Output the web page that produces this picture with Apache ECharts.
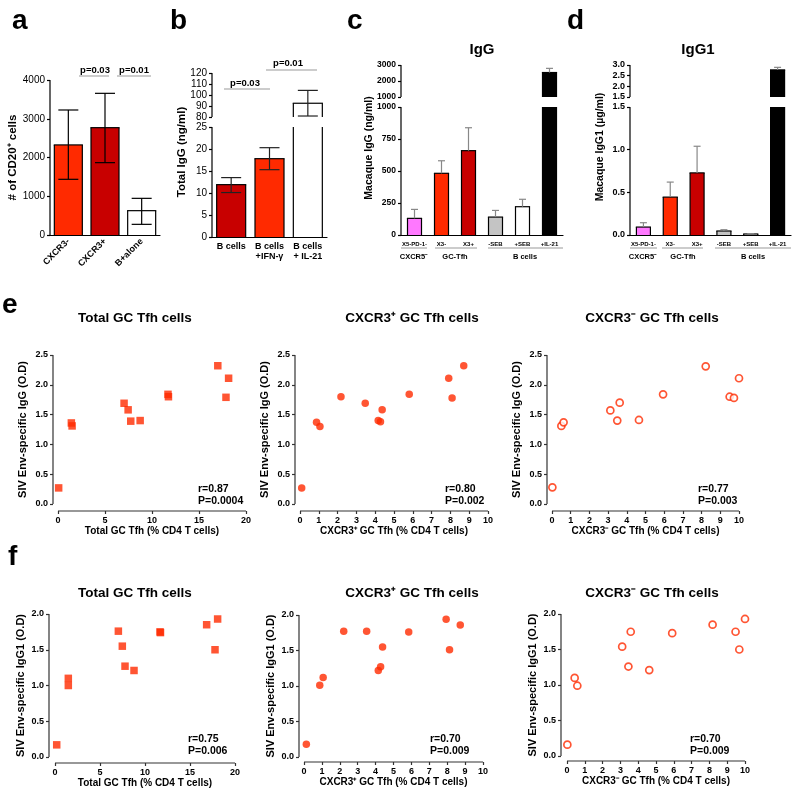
<!DOCTYPE html>
<html><head><meta charset="utf-8">
<script src="https://cdn.jsdelivr.net/npm/echarts@6/dist/echarts.min.js"></script>
<style>html,body{margin:0;padding:0;background:#fff}#c{width:800px;height:798px}</style>
</head><body><div id="c"></div>
<script>
// ---------- data ----------
// Panel a
const catsA = ['CXCR3-', 'CXCR3+', 'B+alone'];
const meanA = [2325, 2770, 628];
const loA = [1437, 1867, 275];
const hiA = [3226, 3656, 946];
// Panel b
const catsB = ['B cells', 'B cells\n+IFN-γ', 'B cells\n+ IL-21'];
const meanB = [11.9, 17.8, 92.5];
const loB = [10.1, 15.3, 80.9];
const hiB = [13.5, 20.3, 104.2];
// Panels c, d
const catsCD = ['X5-PD-1-', 'X3-', 'X3+', '-SEB', '+SEB', '+IL-21'];
const meanC = [130, 482, 659, 140, 221, 2530];
const errC = [200, 580, 838, 192, 279, 2790];
const meanD = [0.093, 0.444, 0.728, 0.047, 0.012, 2.77];
const errD = [0.144, 0.62, 1.04, 0.062, 0.016, 2.89];
const groupsCD = ['CXCR5⁻', 'GC-Tfh', 'B cells'];
// axis break segments
const A_RANGE = [0, 4000];
const B_LOW = [0, 25], B_HIGH = [80, 120];
const C_LOW = [0, 1000], C_HIGH = [1000, 3000];
const D_LOW = [0, 1.5], D_HIGH = [1.5, 3.0];
// Panel e (IgG)
const eTotX = [0.07, 1.42, 1.5, 7.03, 7.46, 7.74, 8.74, 11.7, 11.75, 17.0, 18.15, 17.87];
const eTotY = [0.27, 1.36, 1.31, 1.69, 1.58, 1.39, 1.40, 1.84, 1.80, 2.32, 2.11, 1.79];
const ePosX = [0.09, 0.88, 1.06, 2.18, 3.47, 4.16, 4.28, 4.37, 5.81, 7.91, 8.09, 8.71];
const ePosY = [0.27, 1.37, 1.30, 1.80, 1.69, 1.40, 1.38, 1.58, 1.84, 2.11, 1.78, 2.32];
const eNegX = [0.02, 0.5, 0.62, 3.12, 3.62, 3.49, 4.65, 5.94, 8.22, 9.5, 9.73, 10.0];
const eNegY = [0.28, 1.31, 1.37, 1.57, 1.70, 1.40, 1.41, 1.84, 2.31, 1.80, 1.78, 2.11];
// Panel f (IgG1)
const fTotX = [0.19, 1.48, 1.48, 7.04, 7.48, 7.78, 8.78, 11.67, 11.72, 16.85, 18.07, 17.78];
const fTotY = [0.17, 1.10, 1.00, 1.76, 1.55, 1.27, 1.21, 1.75, 1.74, 1.85, 1.93, 1.50];
const fPosX = [0.13, 0.88, 1.07, 2.22, 3.50, 4.15, 4.28, 4.39, 5.85, 7.94, 8.13, 8.73];
const fPosY = [0.18, 1.01, 1.12, 1.77, 1.77, 1.22, 1.27, 1.55, 1.76, 1.94, 1.51, 1.86];
const fNegX = [0.02, 0.43, 0.58, 3.10, 3.58, 3.45, 4.62, 5.91, 8.18, 9.47, 9.68, 10.0];
const fNegY = [0.16, 1.10, 0.99, 1.54, 1.75, 1.26, 1.21, 1.73, 1.85, 1.75, 1.50, 1.93];
const statsE = [['r=0.87', 'P=0.0004'], ['r=0.80', 'P=0.002'], ['r=0.77', 'P=0.003']];
const statsF = [['r=0.75', 'P=0.006'], ['r=0.70', 'P=0.009'], ['r=0.70', 'P=0.009']];

// ---------- styles ----------
const F = '"Liberation Sans", Arial, Helvetica, sans-serif';
const RED = '#ff2a00', DRED = '#c80000';
const colorsA = [RED, DRED, '#ffffff'];
const colorsB = [DRED, RED, '#ffffff'];
const colorsCD = ['#ff78ff', RED, DRED, '#c4c4c4', '#ffffff', '#000000'];

const grids = [
  {left:50, top:80, width:110, height:155},   // 0 a
  {left:212, top:73, width:115, height:44},   // 1 b hi
  {left:212, top:127, width:115, height:110}, // 2 b lo
  {left:401, top:65, width:162, height:32},   // 3 c hi
  {left:401, top:107, width:162, height:128}, // 4 c lo
  {left:630, top:65, width:161, height:32},   // 5 d hi
  {left:630, top:107, width:161, height:128}, // 6 d lo
  {left:58, top:355, width:188, height:149},  // 7 e1
  {left:300, top:355, width:188, height:149}, // 8 e2
  {left:552, top:355, width:187, height:149}, // 9 e3
  {left:55, top:614, width:180, height:143},  // 10 f1
  {left:304, top:615, width:179, height:142}, // 11 f2
  {left:567, top:614, width:178, height:142}  // 12 f3
].map(g => Object.assign({outerBoundsMode:'none', containLabel:false, show:false}, g));

function yVal(gi, seg, interval, o) {
  o = o || {};
  return {
    type:'value', gridIndex:gi, min:seg[0], max:seg[1], interval:interval, offset:o.offset||0,
    name:o.name||'', nameLocation:'middle', nameGap:o.gap||25,
    nameTextStyle:{fontFamily:F, fontWeight:'bold', fontSize:o.nameSize||11, color:'#000'},
    axisLine:{show:false, onZero:false},
    axisTick:{show:true, inside:false, length:3, lineStyle:{color:o.c||'#000', width:1.2}},
    axisLabel:{show:true, fontFamily:F, fontSize:o.fs||9, fontWeight:o.fw||'bold', color:'#000', margin:5,
      formatter:o.fmt || (v => String(v))},
    splitLine:{show:false},
    lineColor:o.c||'#000'
  };
}
function xCat(gi, data, o) {
  o = o || {};
  return {
    type:'category', gridIndex:gi, data:data, show:o.show !== false,
    axisLine:{show:true, onZero:false, lineStyle:{color:'#000', width:1.2}}, axisTick:{show:false},
    axisLabel:{show:true, interval:0, rotate:o.rotate||0, fontFamily:F, fontWeight:'bold',
      fontSize:o.fs||9, color:'#000', margin:o.margin||4, lineHeight:o.lh||10, hideOverlap:false},
    splitLine:{show:false}
  };
}
function xVal(gi, max, interval, name, offset) {
  return {
    type:'value', gridIndex:gi, min:0, max:max, interval:interval, offset:offset,
    name:name, nameLocation:'middle', nameGap:15,
    nameTextStyle:{fontFamily:F, fontWeight:'bold', fontSize:10, color:'#000'},
    axisLine:{show:false, onZero:false},
    axisTick:{show:true, length:3, lineStyle:{color:'#333', width:1.2}},
    axisLabel:{fontFamily:F, fontWeight:'bold', fontSize:9, color:'#000', margin:5},
    splitLine:{show:false},
    lineColor:'#333'
  };
}
const fmt1 = v => v.toFixed(1);

const xAxis = [
  xCat(0, catsA, {rotate:45, fs:9, margin:5}),
  xCat(1, catsB, {show:false}),
  xCat(2, catsB, {fs:9, margin:5}),
  xCat(3, catsCD, {show:false}),
  xCat(4, catsCD, {fs:6, margin:4}),
  xCat(5, catsCD, {show:false}),
  xCat(6, catsCD, {fs:6, margin:4}),
  xVal(7, 20, 5, 'Total GC Tfh (% CD4 T cells)', 7),
  xVal(8, 10, 1, 'CXCR3⁺ GC Tfh (% CD4 T cells)', 7),
  xVal(9, 10, 1, 'CXCR3⁻ GC Tfh (% CD4 T cells)', 7),
  xVal(10, 20, 5, 'Total GC Tfh (% CD4 T cells)', 6),
  xVal(11, 10, 1, 'CXCR3⁺ GC Tfh (% CD4 T cells)', 5),
  xVal(12, 10, 1, 'CXCR3⁻ GC Tfh (% CD4 T cells)', 5)
];
const yAxis = [
  yVal(0, A_RANGE, 1000, {fs:10, fw:'normal', name:'# of CD20⁺ cells', gap:31, nameSize:11.5}),
  yVal(1, B_HIGH, 10, {fs:10, fw:'normal'}),
  yVal(2, B_LOW, 5, {fs:10, fw:'normal'}),
  yVal(3, C_HIGH, 1000, {fs:8.5}),
  yVal(4, C_LOW, 250, {fs:8.5}),
  yVal(5, D_HIGH, 0.5, {fmt:fmt1}),
  yVal(6, D_LOW, 0.5, {fmt:fmt1}),
  yVal(7, [0, 2.5], 0.5, {fmt:fmt1, c:'#333', offset:5, name:'SIV Env-specific IgG (O.D)', gap:25}),
  yVal(8, [0, 2.5], 0.5, {fmt:fmt1, c:'#333', offset:5, name:'SIV Env-specific IgG (O.D)', gap:25}),
  yVal(9, [0, 2.5], 0.5, {fmt:fmt1, c:'#333', offset:5, name:'SIV Env-specific IgG (O.D)', gap:25}),
  yVal(10, [0, 2.0], 0.5, {fmt:fmt1, c:'#333', offset:6, name:'SIV Env-specific IgG1 (O.D)', gap:23}),
  yVal(11, [0, 2.0], 0.5, {fmt:fmt1, c:'#333', offset:5, name:'SIV Env-specific IgG1 (O.D)', gap:23}),
  yVal(12, [0, 2.0], 0.5, {fmt:fmt1, c:'#333', offset:6, name:'SIV Env-specific IgG1 (O.D)', gap:23})
];

// ---------- series ----------
function barSeries(gi, values, colors, width) {
  return {type:'bar', xAxisIndex:gi, yAxisIndex:gi, barWidth:width, clip:true, silent:true, z:2,
    data: values.map((v, i) => v === '-' ? '-' : ({value:v, itemStyle:{color:colors[i], borderWidth:0}}))};
}
// bar outlines: left/right edges, top edge only when the bar ends inside this axis segment
function outlineSeries(gi, values, seg, width) {
  return {type:'custom', xAxisIndex:gi, yAxisIndex:gi, z:4, silent:true,
    data: values.map((v, i) => [i, v]).filter(d => d[1] !== '-'),
    encode:{x:0, y:1},
    renderItem: function(params, api) {
      const i = api.value(0), v = api.value(1);
      const top = Math.min(v, seg[1]);
      const pB = api.coord([i, seg[0]]), pT = api.coord([i, top]);
      const h = width / 2, st = {stroke:'#000', lineWidth:1.2, fill:null};
      const ch = [
        {type:'line', shape:{x1:pB[0]-h, y1:pB[1], x2:pT[0]-h, y2:pT[1]}, style:st},
        {type:'line', shape:{x1:pB[0]+h, y1:pB[1], x2:pT[0]+h, y2:pT[1]}, style:st}
      ];
      if (v <= seg[1]) ch.push({type:'line', shape:{x1:pT[0]-h-0.6, y1:pT[1], x2:pT[0]+h+0.6, y2:pT[1]}, style:st});
      return {type:'group', children:ch};
    }};
}
function errSeries(gi, items, capW, color, twoCaps) {
  return {type:'custom', xAxisIndex:gi, yAxisIndex:gi, z:5, silent:true,
    data: items, encode:{x:0, y:[1, 2]},
    renderItem: function(params, api) {
      const x = api.value(0), lo = api.value(1), hi = api.value(2);
      const p1 = api.coord([x, lo]), p2 = api.coord([x, hi]);
      const st = {stroke:color, lineWidth:1.2};
      const ch = [
        {type:'line', shape:{x1:p1[0], y1:p1[1], x2:p2[0], y2:p2[1]}, style:st},
        {type:'line', shape:{x1:p2[0]-capW/2, y1:p2[1], x2:p2[0]+capW/2, y2:p2[1]}, style:st}
      ];
      if (twoCaps) ch.push({type:'line', shape:{x1:p1[0]-capW/2, y1:p1[1], x2:p1[0]+capW/2, y2:p1[1]}, style:st});
      return {type:'group', children:ch};
    }};
}
const inSeg = (lo, hi, seg) => lo >= seg[0] - 1e-9 && hi <= seg[1] + 1e-9;
const upper = (vals, seg) => vals.map(v => v > seg[1] ? v : '-');

const errA = catsA.map((_, i) => [i, loA[i], hiA[i]]);
const errB = catsB.map((_, i) => [i, loB[i], hiB[i]]);
const errCi = catsCD.map((_, i) => [i, meanC[i], errC[i]]);
const errDi = catsCD.map((_, i) => [i, meanD[i], errD[i]]);

function scatter(gi, xs, ys, symbol, open) {
  return {type:'scatter', xAxisIndex:gi, yAxisIndex:gi, symbol:symbol, symbolSize: open ? 7 : 7.5,
    silent:true, z:3,
    itemStyle: open ? {color:'#ffffff', borderColor:RED, borderWidth:1.7} : {color:RED},
    data: xs.map((x, i) => [x, ys[i]])};
}

const upB = upper(meanB, B_LOW), upC = upper(meanC, C_LOW), upD = upper(meanD, D_LOW);
const series = [
  barSeries(0, meanA, colorsA, 28),
  outlineSeries(0, meanA, A_RANGE, 28),
  errSeries(0, errA, 20, '#000', true),
  barSeries(1, upB, colorsB, 29),
  outlineSeries(1, upB, B_HIGH, 29),
  barSeries(2, meanB, colorsB, 29),
  outlineSeries(2, meanB, B_LOW, 29),
  errSeries(1, errB.filter(d => inSeg(d[1], d[2], B_HIGH)), 20, '#222', true),
  errSeries(2, errB.filter(d => inSeg(d[1], d[2], B_LOW)), 20, '#222', true),
  barSeries(3, upC, colorsCD, 14),
  outlineSeries(3, upC, C_HIGH, 14),
  barSeries(4, meanC, colorsCD, 14),
  outlineSeries(4, meanC, C_LOW, 14),
  errSeries(3, errCi.filter(d => inSeg(d[1], d[2], C_HIGH)), 7, '#888', false),
  errSeries(4, errCi.filter(d => inSeg(d[1], d[2], C_LOW)), 7, '#888', false),
  barSeries(5, upD, colorsCD, 14),
  outlineSeries(5, upD, D_HIGH, 14),
  barSeries(6, meanD, colorsCD, 14),
  outlineSeries(6, meanD, D_LOW, 14),
  errSeries(5, errDi.filter(d => inSeg(d[1], d[2], D_HIGH)), 7, '#888', false),
  errSeries(6, errDi.filter(d => inSeg(d[1], d[2], D_LOW)), 7, '#888', false),
  scatter(7, eTotX, eTotY, 'rect', false),
  scatter(8, ePosX, ePosY, 'circle', false),
  scatter(9, eNegX, eNegY, 'circle', true),
  scatter(10, fTotX, fTotY, 'rect', false),
  scatter(11, fPosX, fPosY, 'circle', false),
  scatter(12, fNegX, fNegY, 'circle', true)
];

// ---------- annotations ----------
const G = [];
function T(x, y, text, size, o) {
  o = o || {};
  G.push({type:'text', x:x, y:y, rotation:o.rot||0, silent:true, z:10,
    style:{text:text, font:(o.w||'bold') + ' ' + size + 'px ' + F, fill:o.c||'#000',
      textAlign:o.a||'center', textVerticalAlign:o.v||'middle'}});
}
function L(x1, y1, x2, y2, c, w) {
  G.push({type:'line', silent:true, z:10, shape:{x1:x1, y1:y1, x2:x2, y2:y2}, style:{stroke:c||'#999', lineWidth:w||1}});
}
// value-axis lines (drawn along each grid edge, shifted by the axis offset)
yAxis.forEach((ax, k) => {
  const g = grids[k], x = g.left - (ax.offset || 0);
  L(x, g.top, x, g.top + g.height, ax.lineColor, 1.2);
});
xAxis.forEach((ax, k) => {
  if (ax.type !== 'value') return;
  const g = grids[k], y = g.top + g.height + (ax.offset || 0);
  L(g.left, y, g.left + g.width, y, ax.lineColor, 1.2);
});
// panel letters
T(12, 21, 'a', 28, {a:'left'});
T(170, 21, 'b', 28, {a:'left'});
T(347, 21, 'c', 28, {a:'left'});
T(567, 21, 'd', 28, {a:'left'});
T(2, 305, 'e', 28, {a:'left'});
T(8, 557, 'f', 28, {a:'left'});
// p values
T(95, 70, 'p=0.03', 9.5); L(79, 76, 109, 76);
T(134, 70, 'p=0.01', 9.5); L(117, 76, 151, 76);
T(245, 83, 'p=0.03', 9.5); L(224, 89, 270, 89);
T(288, 63, 'p=0.01', 9.5); L(266, 70, 317, 70);
// b,c,d y names and titles
T(182, 152, 'Total IgG (ng/ml)', 11.5, {rot:Math.PI/2});
T(369, 148, 'Macaque IgG (ng/ml)', 10.5, {rot:Math.PI/2});
T(600, 147, 'Macaque IgG1 (µg/ml)', 10.5, {rot:Math.PI/2});
T(482, 50, 'IgG', 15);
T(698, 50, 'IgG1', 15);
// c, d group lines and labels
[[401, 427], [435, 477], [488, 563]].forEach(s => L(s[0], 248, s[1], 248));
[414, 455, 525].forEach((x, i) => T(x, 257, groupsCD[i], 7.5));
[[630, 657], [662, 703], [715, 791]].forEach(s => L(s[0], 248, s[1], 248));
[643, 683, 753].forEach((x, i) => T(x, 257, groupsCD[i], 7.5));
// e, f titles
const scTitles = ['Total GC Tfh cells', 'CXCR3⁺ GC Tfh cells', 'CXCR3⁻ GC Tfh cells'];
[135, 412, 652].forEach((x, i) => { T(x, 318, scTitles[i], 13.5); T(x, 593, scTitles[i], 13.5); });
// stats
[198, 445, 698].forEach((x, i) => { T(x, 489, statsE[i][0], 10.5, {a:'left'}); T(x, 501, statsE[i][1], 10.5, {a:'left'}); });
[188, 430, 690].forEach((x, i) => { T(x, 739, statsF[i][0], 10.5, {a:'left'}); T(x, 751, statsF[i][1], 10.5, {a:'left'}); });

const chart = echarts.init(document.getElementById('c'));
chart.setOption({
  animation:false,
  backgroundColor:'#ffffff',
  textStyle:{fontFamily:F},
  grid:grids, xAxis:xAxis, yAxis:yAxis, series:series, graphic:G
});
</script></body></html>
